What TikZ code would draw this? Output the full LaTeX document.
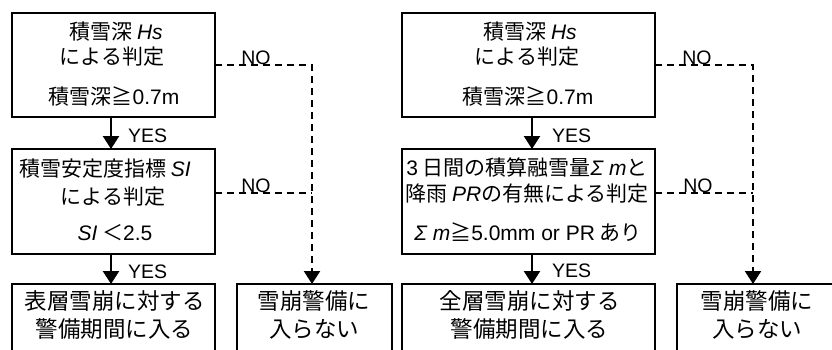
\documentclass[tikz,border=0pt]{standalone}
\usepackage{fontspec}
\setmainfont{Noto Sans CJK JP}
\newfontfamily\lat{Liberation Sans}
\usetikzlibrary{arrows.meta}
\newcommand\myit[1]{{\lat\itshape #1}}
\newcommand\mylat[1]{{\lat #1}}
\begin{document}
\begin{tikzpicture}[x=1pt,y=-1pt,
 box/.style={draw,line width=2.4pt,anchor=north west,inner sep=0pt,outer sep=0pt},
 txt/.style={anchor=base,inner sep=0pt,font=\fontsize{21}{24}\selectfont},
 big/.style={anchor=base,inner sep=0pt,font=\fontsize{22.5}{25}\selectfont},
 lab/.style={anchor=base west,inner sep=0pt,font=\lat\fontsize{19.5}{22}\selectfont},
 nolab/.style={anchor=base,inner sep=0pt,font=\lat\fontsize{19.5}{22}\selectfont},
 arr/.style={line width=2.4pt,-{Triangle[width=16pt,length=13pt]}},
 dline/.style={line width=2.2pt,dash pattern=on 7pt off 5pt},
 dasharr/.style={dline,-{Triangle[width=16pt,length=13pt]}}]
\clip (0,0) rectangle (832,349);
\fill[white] (0,0) rectangle (832,349);
% boxes
\node[box,minimum width=203pt,minimum height=104pt] (L1) at (12,13) {};
\node[box,minimum width=203pt,minimum height=105pt] (L2) at (12,149) {};
\node[box,minimum width=203pt,minimum height=80pt] (L3) at (12,284) {};
\node[box,minimum width=155pt,minimum height=80pt] (N1) at (237,284) {};
\node[box,minimum width=253pt,minimum height=104pt] (R1) at (402,13) {};
\node[box,minimum width=253pt,minimum height=105pt] (R2) at (402,149) {};
\node[box,minimum width=253pt,minimum height=80pt] (R3) at (402,284) {};
\node[box,minimum width=160pt,minimum height=80pt] (N2) at (677,284) {};
% texts left
\node[txt] (t11) at (116,39) {積雪深 \myit{Hs}};
\node[txt] (t12) at (112,64) {による判定};
\node[txt] (t13) at (114,104) {積雪深≧\mylat{0.7m}};
\node[txt] (t21) at (105,176) {積雪安定度指標 \myit{SI}};
\node[txt] (t22) at (113,204) {による判定};
\node[txt] (t23) at (115,240) {\myit{SI} ＜\mylat{2.5}};
\node[big] (t31) at (114.5,309.5) {表層雪崩に対する};
\node[big] (t32) at (114.5,337.5) {警備期間に入る};
\node[big] (n11) at (314,309.5) {雪崩警備に};
\node[big] (n12) at (314,337.5) {入らない};
% texts right
\node[txt] (u11) at (530,39) {積雪深 \myit{Hs}};
\node[txt] (u12) at (527,64) {による判定};
\node[txt] (u13) at (528,104) {積雪深≧\mylat{0.7m}};
\node[txt] (u21) at (527,175) {\mylat{3} 日間の積算融雪量\myit{Σ m}と};
\node[txt] (u22) at (527,201) {降雨 \myit{PR}の有無による判定};
\node[txt] (u23) at (528,240) {\myit{Σ m}≧\mylat{5.0mm or PR} あり};
\node[big] (u31) at (529.5,309.5) {全層雪崩に対する};
\node[big] (u32) at (529.5,337.5) {警備期間に入る};
\node[big] (n21) at (757,309.5) {雪崩警備に};
\node[big] (n22) at (757,337.5) {入らない};
% YES arrows
\draw[arr] ([xshift=-2.5pt]L1.south) -- ([xshift=-2.5pt]L2.north);
\draw[arr] ([xshift=-2.5pt]L2.south) -- ([xshift=-2.5pt]L3.north);
\draw[arr] ([xshift=3.5pt]R1.south) -- ([xshift=3.5pt]R2.north);
\draw[arr] ([xshift=3.5pt]R2.south) -- ([xshift=3.5pt]R3.north);
\node[lab] (y1) at (128,142) {YES};
\node[lab] (y2) at (128,278) {YES};
\node[lab] (y3) at (552,142) {YES};
\node[lab] (y4) at (552,277) {YES};
% NO lines
\coordinate (v1) at ([xshift=-2.5pt]N1.north);
\coordinate (v2) at ([xshift=-4pt]N2.north);
\coordinate (l2o) at ([yshift=8.5pt]L2.east);
\coordinate (r2o) at ([yshift=8.5pt]R2.east);
\draw[dasharr] (L1.east) -| (v1);
\draw[dline] (l2o) -- (l2o -| v1);
\draw[dasharr] (R1.east) -| (v2);
\draw[dline] (r2o) -- (r2o -| v2);
\node[nolab] (no1) at (256,64) {NO};
\node[nolab] (no2) at (256,192) {NO};
\node[nolab] (no3) at (697,64) {NO};
\node[nolab] (no4) at (698,192) {NO};
\end{tikzpicture}
\end{document}
